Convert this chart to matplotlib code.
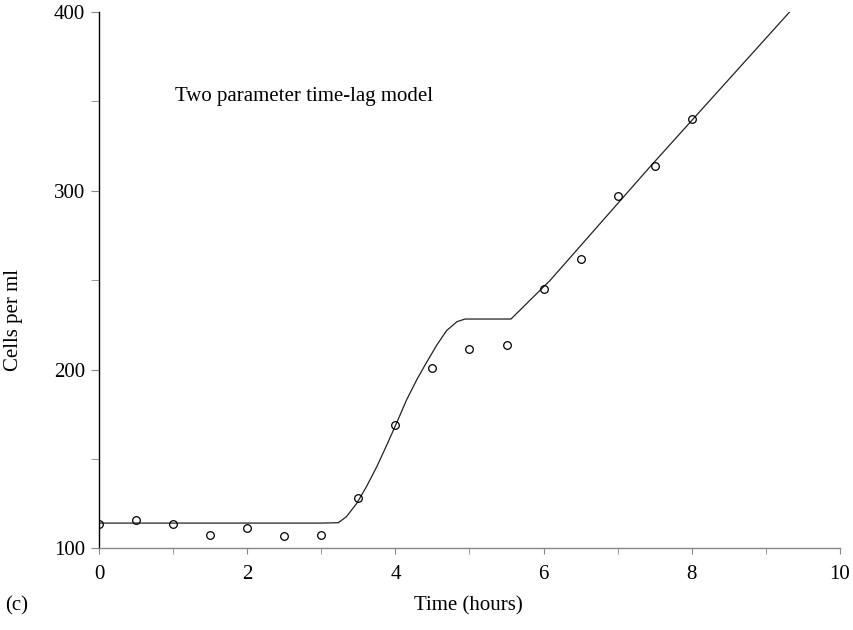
import matplotlib
matplotlib.use("Agg")
import matplotlib.pyplot as plt

plt.rcParams['font.family'] = ['Liberation Serif', 'DejaVu Serif']

# observed counts
t_obs = [0, 0.5, 1, 1.5, 2, 2.5, 3, 3.5, 4, 4.5, 5, 5.5, 6, 6.5, 7, 7.5, 8]
cells_obs = [113.5, 115.7, 113.5, 107.8, 111.2, 106.7, 107.8, 128, 168.8,
             200.7, 211.4, 213.6, 244.9, 261.7, 297, 313.8, 340]

# fitted two parameter time-lag model
t_fit = [0, 3.0, 3.23, 3.34, 3.48, 3.61, 3.75, 3.88, 4.02, 4.15, 4.29, 4.42,
         4.56, 4.69, 4.83, 4.94, 5.56, 6.09, 7.44, 9.32]
cells_fit = [114.2, 114.2, 114.4, 117.8, 125.3, 134.6, 145.8, 157.5, 170.5,
             183, 194.5, 204, 213.8, 221.8, 226.8, 228.3, 228.3, 250,
             313.6, 400]

fig = plt.figure(figsize=(8.54, 6.3), dpi=100)
ax = fig.add_axes([0.1159, 0.1294, 0.8677, 0.8516])

ax.plot(t_fit, cells_fit, color='#222222', lw=0.9)
ax.plot(t_obs, cells_obs, 'o', mfc='none', mec='black', ms=5.5, mew=0.9)

ax.set_xlim(0, 10)
ax.set_ylim(100, 400)
ax.set_xticks([0, 2, 4, 6, 8, 10])
ax.set_xticks([1, 3, 5, 7, 9], minor=True)
ax.set_yticks([100, 200, 300, 400])
ax.set_yticks([150, 250, 350], minor=True)

for s in ['top', 'right']:
    ax.spines[s].set_visible(False)
ax.spines['left'].set_color('black')
ax.spines['bottom'].set_color('#888888')
ax.spines['left'].set_linewidth(1.0)
ax.spines['bottom'].set_linewidth(1.0)

ax.tick_params(axis='both', which='both', color='#888888', labelsize=15,
               direction='out')
ax.tick_params(axis='y', which='both', length=6, pad=4)
ax.tick_params(axis='x', which='both', length=4, pad=8)

ax.text(1.03, 352.7, 'Two parameter time-lag model', fontsize=15,
        va='center', ha='left')

fig.text(468 / 854, 1 - 606 / 630, 'Time (hours)', fontsize=15,
         ha='center', va='center')
fig.text(14 / 854, 1 - 320 / 630, 'Cells per ml', fontsize=15,
         ha='center', va='center', rotation=90)
fig.text(5 / 854, 1 - 606 / 630, '(c)', fontsize=15, ha='left', va='center')

fig.savefig('out.png', dpi=100)
